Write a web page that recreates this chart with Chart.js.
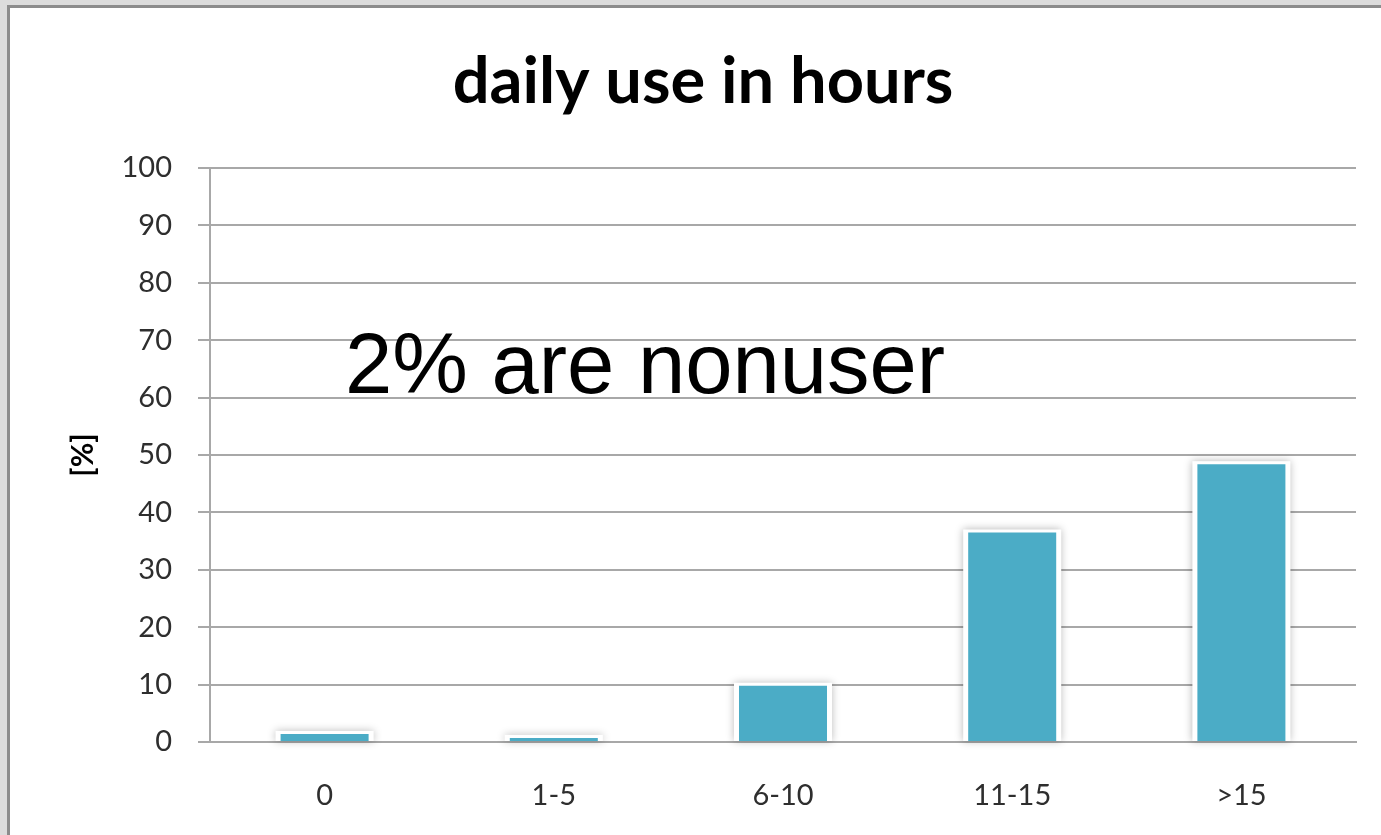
<!DOCTYPE html>
<html>
<head>
<meta charset="utf-8">
<script src="https://cdn.jsdelivr.net/npm/chart.js@4"></script>
<style>
  html, body { margin: 0; padding: 0; width: 1381px; height: 835px; overflow: hidden; background: #dcdcdc; }
  #panel { position: absolute; left: 7px; top: 5px; width: 1400px; height: 860px; background: #fff;
           border-left: 3px solid #8c8c8c; border-top: 3px solid #8c8c8c; }
  #wrap { position: absolute; left: 0; top: 0; width: 1381px; height: 835px; }
  canvas { display: block; }
</style>
</head>
<body>
<div id="panel"></div>
<div id="wrap"><canvas id="c" width="1381" height="835" style="width:1381px;height:835px"></canvas></div>
<script>
// ---- data ----
const categories = ['0', '1-5', '6-10', '11-15', '>15'];
const usePercent = [1.4, 0.7, 9.8, 36.5, 48.4];
const chartTitle = 'daily use in hours';
const yAxisTitle = '[%]';
const noteText = '2% are nonuser';
const yMin = 0, yMax = 100, yStep = 10;

const barColor = '#4bacc6';
const gridColor = '#a8a8a8';
const tickColor = '#2e2e2e';

const barHalo = {
  id: 'barHalo',
  beforeDatasetsDraw(chart) {
    const ctx = chart.ctx;
    const meta = chart.getDatasetMeta(0);
    ctx.save();
    ctx.shadowColor = 'rgba(0,0,0,0.28)';
    ctx.shadowBlur = 8;
    ctx.fillStyle = '#ffffff';
    meta.data.forEach(bar => {
      const p = bar.getProps(['x', 'y', 'base', 'width'], true);
      const l = p.x - p.width / 2 - 5;
      const top = Math.min(p.y, p.base) - 3;
      ctx.fillRect(l, top, p.width + 10, Math.abs(p.base - p.y) + 3);
    });
    ctx.restore();
  }
};

const note = {
  id: 'note',
  afterDraw(chart) {
    const ctx = chart.ctx;
    const a = chart.chartArea;
    ctx.save();
    ctx.font = '85px "Liberation Sans", Arial, sans-serif';
    ctx.fillStyle = '#000';
    ctx.textBaseline = 'alphabetic';
    ctx.textAlign = 'left';
    ctx.fillText(noteText, a.left + 135, a.top + 225);
    ctx.restore();
  }
};

new Chart(document.getElementById('c'), {
  type: 'bar',
  data: {
    labels: categories,
    datasets: [{
      data: usePercent,
      backgroundColor: barColor,
      borderWidth: 0,
      barPercentage: 0.48,
      categoryPercentage: 0.8
    }]
  },
  options: {
    responsive: false,
    maintainAspectRatio: false,
    animation: false,
    layout: { padding: { top: 0, right: 25, bottom: 0, left: 50 } },
    plugins: {
      legend: { display: false },
      tooltip: { enabled: false },
      title: {
        display: true,
        text: chartTitle,
        color: '#000',
        font: { family: 'Lato', size: 65, weight: 'bold', lineHeight: 1.2 },
        padding: { top: 43, bottom: 47 }
      }
    },
    scales: {
      x: {
        afterFit(scale) { scale.height = 93; },
        grid: { display: false, drawTicks: false },
        border: { display: true, color: gridColor, width: 2 },
        ticks: { color: tickColor, font: { family: 'Lato', size: 29 }, padding: 36 }
      },
      y: {
        min: yMin, max: yMax,
        afterFit(scale) { scale.width = 160; },
        grid: { color: gridColor, lineWidth: 2, tickLength: 12, drawTicks: true },
        border: { display: true, color: gridColor, width: 2 },
        ticks: { stepSize: yStep, color: tickColor, font: { family: 'Lato', size: 29 }, padding: 26 },
        title: {
          display: true,
          text: yAxisTitle,
          color: '#000',
          font: { family: 'Lato', size: 30, weight: 'bold', lineHeight: 1.2 },
          padding: { top: 15, bottom: 0 }
        }
      }
    }
  },
  plugins: [barHalo, note]
});
</script>
</body>
</html>
